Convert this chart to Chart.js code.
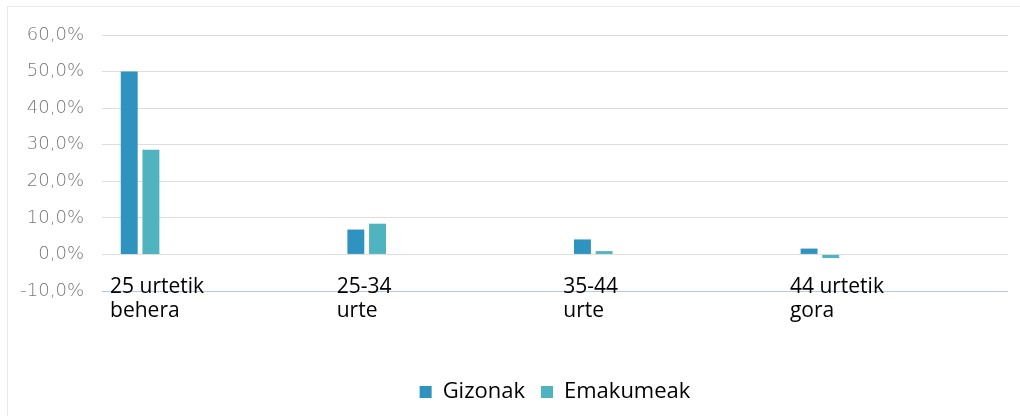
<!DOCTYPE html>
<html lang="eu">
<head>
  <meta charset="UTF-8">
  <title>Adin taldeak</title>
  <style>
    body {
      margin: 0;
      background: #ffffff;
    }
    #frame {
      position: absolute;
      left: 7px;
      top: 6px;
      width: 1013px;
      height: 410px;
      border-left: 1px solid #e8e8e8;
      border-top: 1px solid #e8e8e8;
    }
    #chartContainer {
      position: absolute;
      left: 0;
      top: 0;
      width: 1008px;
      height: 416px;
    }
  </style>
</head>
<body>
  <div id="frame"></div>
  <div id="chartContainer">
    <canvas id="ageChart"></canvas>
  </div>

  <script src="https://cdn.jsdelivr.net/npm/chart.js"></script>
  <script>
    const categories = [
      ['25 urtetik', 'behera'],
      ['25-34', 'urte'],
      ['35-44', 'urte'],
      ['44 urtetik', 'gora']
    ];
    const gizonak = [50.0, 6.8, 4.1, 1.6];
    const emakumeak = [28.6, 8.4, 0.9, -1.0];
    const yTicks = [-10, 0, 10, 20, 30, 40, 50, 60];

    const ctx = document.getElementById('ageChart').getContext('2d');

    new Chart(ctx, {
      type: 'bar',
      data: {
        labels: categories.map((c, i) => i),
        datasets: [
          {
            label: 'Gizonak',
            data: gizonak,
            backgroundColor: '#2f93bf'
          },
          {
            label: 'Emakumeak',
            data: emakumeak,
            backgroundColor: '#4fb4c0'
          }
        ]
      },
      options: {
        responsive: true,
        maintainAspectRatio: false,
        animation: false,
        categoryPercentage: 0.1915,
        barPercentage: 0.78,
        layout: {
          padding: { left: 0, top: 35, right: 0, bottom: 3 }
        },
        plugins: {
          tooltip: { enabled: false },
          legend: {
            position: 'bottom',
            fullSize: false,
            labels: {
              boxWidth: 12,
              boxHeight: 12,
              padding: 16,
              color: '#000000',
              font: { family: "'Open Sans', sans-serif", size: 22 }
            }
          }
        },
        scales: {
          x: {
            type: 'linear',
            offset: false,
            min: -0.168,
            max: 3.83,
            afterBuildTicks: (scale) => {
              scale.ticks = categories.map((c, i) => ({ value: i }));
            },
            afterFit: (scale) => { scale.height = 74; },
            grid: { display: false },
            border: { display: true, color: '#b4c7e7', width: 1 },
            ticks: {
              autoSkip: false,
              maxRotation: 0,
              mirror: true,
              align: 'start',
              labelOffset: -30,
              padding: -8,
              color: '#000000',
              font: { family: "'Open Sans', sans-serif", size: 21, lineHeight: 1.15 },
              callback: (v) => categories[v]
            }
          },
          y: {
            min: -10,
            max: 60,
            afterBuildTicks: (scale) => {
              scale.ticks = yTicks.map(v => ({ value: v }));
            },
            afterFit: (scale) => { scale.width = 102; },
            border: { display: false },
            grid: {
              drawTicks: false,
              color: (c) => c.tick && c.tick.value === -10 ? 'rgba(0,0,0,0)' : '#dedede',
              lineWidth: 1
            },
            ticks: {
              padding: 18,
              color: '#7a7a7a',
              font: { family: "'DejaVu Sans', sans-serif", size: 18, weight: '200' },
              callback: (v) => v.toFixed(1).replace('.', ',') + '%'
            }
          }
        }
      }
    });
  </script>
</body>
</html>
